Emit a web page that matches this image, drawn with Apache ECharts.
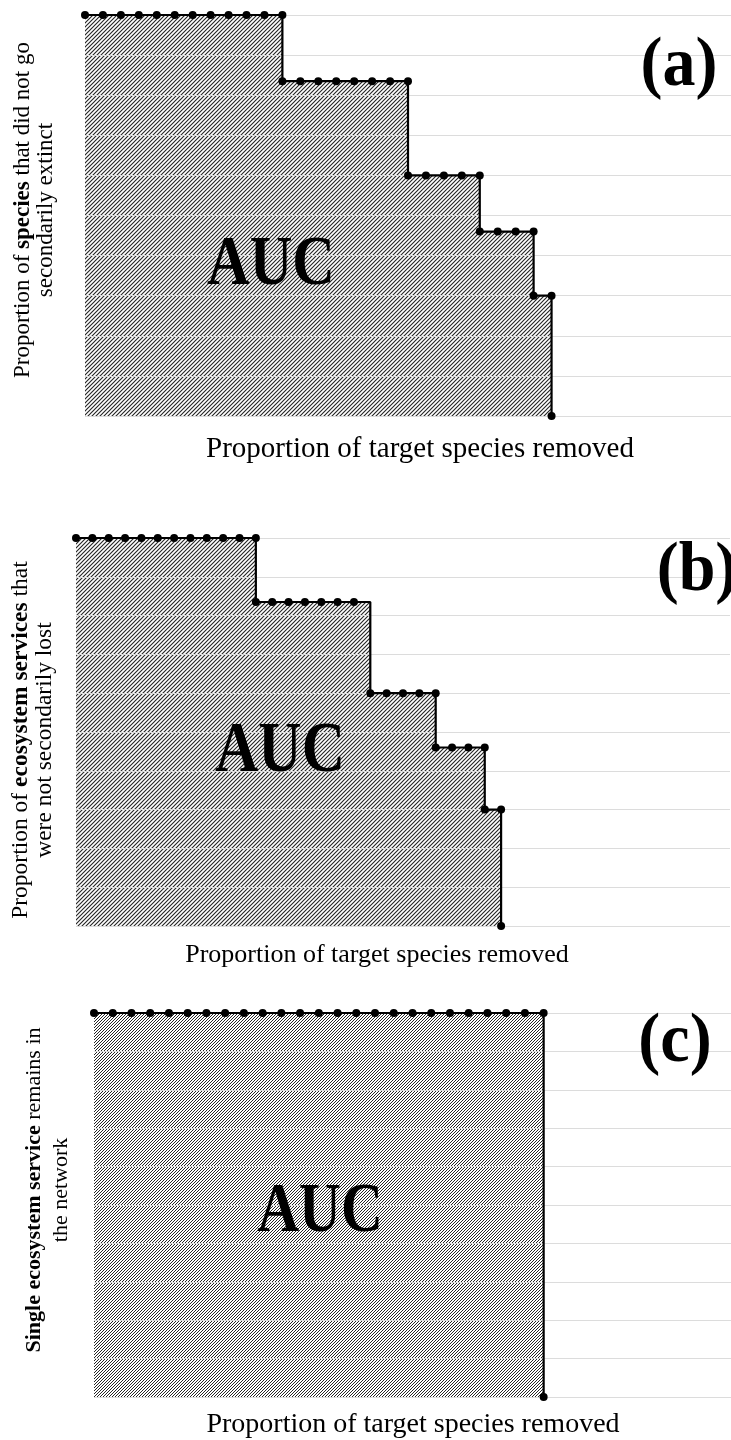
<!DOCTYPE html>
<html>
<head>
<meta charset="utf-8">
<script src="https://cdn.jsdelivr.net/npm/echarts@6/dist/echarts.min.js"></script>
<style>
  html, body { margin: 0; padding: 0; background: #fff; }
  #chart { width: 731px; height: 1440px; }
</style>
</head>
<body>
<div id="chart"></div>
<script>
// Removal steps (number of target species removed) and the proportion left at each step.
// A repeated step marks a vertical drop in the curve.

// (a) species that did not go secondarily extinct
const stepsA  = [0, 1, 2, 3, 4, 5, 6, 7, 8, 9, 10, 11,
                 11, 12, 13, 14, 15, 16, 17, 18,
                 18, 19, 20, 21, 22,
                 22, 23, 24, 25,
                 25, 26,
                 26];
const valuesA = [1, 1, 1, 1, 1, 1, 1, 1, 1, 1, 1, 1,
                 0.835, 0.835, 0.835, 0.835, 0.835, 0.835, 0.835, 0.835,
                 0.6, 0.6, 0.6, 0.6, 0.6,
                 0.46, 0.46, 0.46, 0.46,
                 0.3, 0.3,
                 0];

// (b) ecosystem services that were not secondarily lost
const stepsB  = [0, 1, 2, 3, 4, 5, 6, 7, 8, 9, 10, 11,
                 11, 12, 13, 14, 15, 16, 17,
                 18, 19, 20, 21, 22,
                 22, 23, 24, 25,
                 25, 26,
                 26];
const valuesB = [1, 1, 1, 1, 1, 1, 1, 1, 1, 1, 1, 1,
                 0.835, 0.835, 0.835, 0.835, 0.835, 0.835, 0.835,
                 0.6, 0.6, 0.6, 0.6, 0.6,
                 0.46, 0.46, 0.46, 0.46,
                 0.3, 0.3,
                 0];

// (c) single ecosystem service remains in the network
const stepsC  = [0, 1, 2, 3, 4, 5, 6, 7, 8, 9, 10, 11, 12,
                 13, 14, 15, 16, 17, 18, 19, 20, 21, 22, 23, 24,
                 24];
const valuesC = [1, 1, 1, 1, 1, 1, 1, 1, 1, 1, 1, 1, 1,
                 1, 1, 1, 1, 1, 1, 1, 1, 1, 1, 1, 1,
                 0];

// Text
const panelLabels = ['(a)', '(b)', '(c)'];
const xTitle = 'Proportion of target species removed';
const areaLabel = 'AUC';

const SERIF = "'Liberation Serif', 'Times New Roman', serif";

// Diagonal hatch tile used as the area fill
function hatch(gap, lw, color) {
  const c = document.createElement('canvas');
  c.width = gap; c.height = gap;
  const g = c.getContext('2d');
  g.fillStyle = '#fff';
  g.fillRect(0, 0, gap, gap);
  g.strokeStyle = color;
  g.lineWidth = lw;
  g.beginPath();
  g.moveTo(-1, gap + 1); g.lineTo(gap + 1, -1);
  g.moveTo(-1, 1); g.lineTo(1, -1);
  g.moveTo(gap - 1, gap + 1); g.lineTo(gap + 1, gap - 1);
  g.stroke();
  return { image: c, repeat: 'repeat' };
}

const pairs = (xs, ys) => xs.map((x, i) => [x, ys[i]]);

const grids = [
  { left: 85, top: 15,   width: 655, height: 401 },
  { left: 76, top: 538,  width: 654, height: 388 },
  { left: 94, top: 1013, width: 645, height: 384 }
];
const xMax = [36, 40, 34];

function xAxis(i) {
  return {
    type: 'value', gridIndex: i, min: 0, max: xMax[i],
    axisLine: { show: false }, axisTick: { show: false },
    axisLabel: { show: false }, splitLine: { show: false }
  };
}
function yAxis(i) {
  return {
    type: 'value', gridIndex: i, min: 0, max: 1, interval: 0.1, z: 3,
    axisLine: { show: false }, axisTick: { show: false },
    axisLabel: { show: false },
    splitLine: { lineStyle: { color: '#dcdcdc', width: 1 } }
  };
}

function panelSeries(i, data, fill) {
  return [
    {
      type: 'line', xAxisIndex: i, yAxisIndex: i, step: 'end',
      data: data, symbol: 'none', silent: true, z: 1,
      lineStyle: { width: 0 },
      areaStyle: { color: fill, opacity: 1 }
    },
    {
      type: 'line', xAxisIndex: i, yAxisIndex: i, step: 'end',
      data: data, symbol: 'circle', symbolSize: 8, showSymbol: true,
      silent: true, z: 5,
      lineStyle: { color: '#000', width: 2.2 },
      itemStyle: { color: '#000' }
    }
  ];
}

function text(x, y, str, size, opts) {
  opts = opts || {};
  return {
    type: 'text', x: x, y: y, z: 10,
    rotation: opts.rotation || 0,
    scaleX: opts.scaleX || 1, scaleY: opts.scaleY || 1,
    style: {
      text: str,
      fontFamily: SERIF, fontSize: size,
      fontWeight: opts.bold ? 'bold' : 'normal',
      fill: '#000', textAlign: 'center', textVerticalAlign: 'middle',
      rich: opts.rich
    }
  };
}

function richLine(x, y, str, size) {
  return text(x, y, str, size, {
    rotation: Math.PI / 2,
    rich: {
      r: { fontFamily: SERIF, fontSize: size, fill: '#000' },
      b: { fontFamily: SERIF, fontSize: size, fontWeight: 'bold', fill: '#000' }
    }
  });
}

const chart = echarts.init(document.getElementById('chart'), null, { renderer: 'canvas' });

chart.setOption({
  animation: false,
  backgroundColor: '#fff',
  grid: grids,
  xAxis: [xAxis(0), xAxis(1), xAxis(2)],
  yAxis: [yAxis(0), yAxis(1), yAxis(2)],
  series: [
    ...panelSeries(0, pairs(stepsA, valuesA), hatch(4, 1.15, '#262626')),
    ...panelSeries(1, pairs(stepsB, valuesB), hatch(4, 1.15, '#262626')),
    ...panelSeries(2, pairs(stepsC, valuesC), hatch(3, 1.0, '#262626'))
  ],
  graphic: [
    // panel (a)
    text(679, 67, panelLabels[0], 66, { bold: true, scaleY: 1.05 }),
    text(271, 266, areaLabel, 59, { bold: true, scaleY: 1.2 }),
    richLine(23, 210, '{r|Proportion of }{b|species}{r| that did not go}', 23),
    richLine(46, 210, '{r|secondarily extinct}', 23),
    text(420, 449, xTitle, 29),

    // panel (b)
    text(697, 572, panelLabels[1], 66, { bold: true, scaleY: 1.05 }),
    text(280, 752, areaLabel, 60, { bold: true, scaleY: 1.2 }),
    richLine(21, 740, '{r|Proportion of }{b|ecosystem services}{r| that}', 23.5),
    richLine(45, 740, '{r|were not secondarily lost}', 23.5),
    text(377, 955, xTitle, 26),

    // panel (c)
    text(675, 1043, panelLabels[2], 66, { bold: true, scaleY: 1.05 }),
    text(320, 1213, areaLabel, 58, { bold: true, scaleY: 1.2 }),
    richLine(34, 1190, '{b|Single ecosystem service}{r| remains in}', 22),
    richLine(61, 1190, '{r|the network}', 22),
    text(413, 1425, xTitle, 28)
  ]
});
</script>
</body>
</html>
